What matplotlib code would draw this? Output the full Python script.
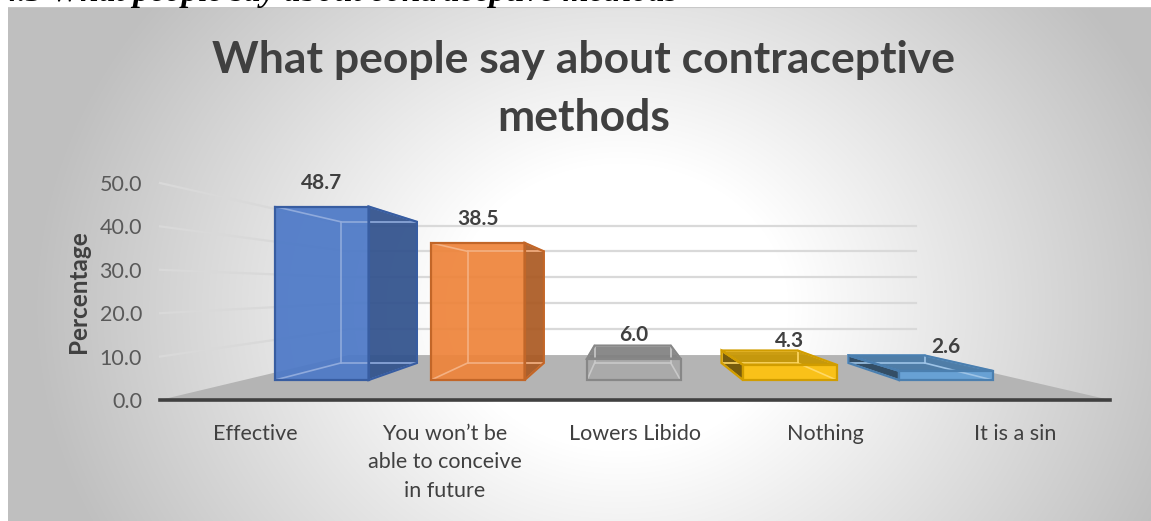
import numpy as np
import matplotlib.pyplot as plt
from matplotlib.patches import Polygon
from matplotlib.colors import to_rgb

categories = ['Effective', 'You won’t be\nable to conceive\nin future',
              'Lowers Libido', 'Nothing', 'It is a sin']
percentages = [48.7, 38.5, 6.0, 4.3, 2.6]
bar_colors = ['#4472c4', '#ed7d31', '#a5a5a5', '#ffc000', '#5b9bd5']
y_ticks = [0, 10, 20, 30, 40, 50]

# perspective set-up (data units): vanishing point + depth scale factors
VX, VY = 1.963, 25.7
WALL = 0.597          # back wall
BAR_FRONT = 0.821
BAR_BACK = 0.668
HALF = 0.3            # half bar width

TEXT = '#404040'
plt.rcParams['font.family'] = ['Lato', 'DejaVu Sans']


def proj(x, y, s):
    return VX + s * (x - VX), VY + s * (y - VY)


def draw_box(ax, xc, h, color):
    base = np.array(to_rgb(color))
    x0, x1 = xc - HALF, xc + HALF

    def pts(corners):
        return [proj(x, y, s) for x, y, s in corners]

    front = pts([(x0, 0, BAR_FRONT), (x1, 0, BAR_FRONT), (x1, h, BAR_FRONT), (x0, h, BAR_FRONT)])
    back = pts([(x0, 0, BAR_BACK), (x1, 0, BAR_BACK), (x1, h, BAR_BACK), (x0, h, BAR_BACK)])

    faces = []
    if h < VY:
        faces.append((pts([(x0, h, BAR_FRONT), (x1, h, BAR_FRONT), (x1, h, BAR_BACK), (x0, h, BAR_BACK)]),
                      base * 0.78))
    if x1 < VX:
        faces.append((pts([(x1, 0, BAR_FRONT), (x1, h, BAR_FRONT), (x1, h, BAR_BACK), (x1, 0, BAR_BACK)]),
                      base * 0.72))
    if x0 > VX:
        faces.append((pts([(x0, 0, BAR_FRONT), (x0, h, BAR_FRONT), (x0, h, BAR_BACK), (x0, 0, BAR_BACK)]),
                      base * 0.45))
    faces.append((front, base * 0.95 + 0.05))

    for p, c in faces:
        ax.add_patch(Polygon(p, closed=True, facecolor=np.clip(c, 0, 1), edgecolor='none',
                             alpha=0.93, zorder=3, clip_on=False))

    # see-through edges of the box
    faint = base * 0.6 + 0.4
    for i in range(4):
        j = (i + 1) % 4
        ax.plot([back[i][0], back[j][0]], [back[i][1], back[j][1]], color=faint, lw=1.2,
                zorder=4, clip_on=False)
        ax.plot([front[i][0], back[i][0]], [front[i][1], back[i][1]], color=faint, lw=1.2,
                zorder=4, clip_on=False)

    edge = base * 0.82
    for p, c in faces:
        ax.add_patch(Polygon(p, closed=True, fill=False, edgecolor=edge, lw=1.6,
                             zorder=5, clip_on=False))


fig = plt.figure(figsize=(11.51, 5.21), dpi=100)

# chart area background, radial grey gradient
bg = fig.add_axes([8 / 1151, 0, 1 - 8 / 1151, 514 / 521], zorder=-1)
gy, gx = np.mgrid[0:514, 0:1143]
r = np.sqrt(((gx - 612) / 560.0) ** 2 + ((gy - 300) / 480.0) ** 2)
shade = 1 - 0.25 * np.clip((r - 0.3) / 0.75, 0, 1)
bg.imshow(np.dstack([shade] * 3), aspect='auto', extent=(0, 1, 0, 1), interpolation='bilinear')
bg.axhline(1, color='#c8c8c8', lw=1.5)
bg.axis('off')

# caption line above the chart (runs off the top edge)
cap = fig.text(2 / 1151, 1 - 1 / 521, '4.3 What people say about contraceptive methods',
               family='Liberation Serif', fontweight='bold', fontstyle='italic',
               fontsize=20, va='baseline', ha='left', color='black')
fig.canvas.draw()
cap.set_fontsize(20 * 675 / cap.get_window_extent().width)

ax = fig.add_axes([160 / 1151, 121 / 521, 950 / 1151, 217 / 521])
ax.set_facecolor('none')
ax.set_xlim(-0.5, 4.5)
ax.set_ylim(0, 50)

xs = np.arange(len(categories))

# walls: grid lines on the back wall and the left side wall
for v in y_ticks[1:]:
    bx0, by = proj(-0.5, v, WALL)
    bx1, _ = proj(4.5, v, WALL)
    ax.plot([bx0, bx1], [by, by], color='#d9d9d9', lw=1.6, zorder=1, clip_on=False)
    ax.plot([-0.5, bx0], [v, by], color='#d9d9d9', lw=1.6, zorder=1, clip_on=False)

# floor
floor = [proj(-0.5, 0, 1), proj(4.5, 0, 1), proj(4.5, 0, WALL), proj(-0.5, 0, WALL)]
ax.add_patch(Polygon(floor, closed=True, facecolor='#b4b4b4', edgecolor='none', zorder=2,
                     clip_on=False))

for x, v, c in zip(xs, percentages, bar_colors):
    draw_box(ax, x, v, c)
    ax.annotate(f'{v:.1f}', xy=proj(x, v, BAR_FRONT), xytext=(0, 17), textcoords='offset points',
                ha='center', va='center', fontsize=15, fontweight='bold', color=TEXT,
                annotation_clip=False)

for side in ['top', 'right', 'left']:
    ax.spines[side].set_visible(False)
ax.spines['bottom'].set_color('#404040')
ax.spines['bottom'].set_linewidth(2.6)
ax.spines['bottom'].set_zorder(6)

ax.set_yticks(y_ticks)
ax.set_yticklabels([f'{t:.1f}' for t in y_ticks], fontsize=15.5, color='#595959')
ax.set_xticks(xs)
ax.set_xticklabels(categories, fontsize=15.5, color=TEXT, va='top')
for t in ax.get_xticklabels():
    t.set_linespacing(1.55)
ax.tick_params(axis='y', length=0, pad=13)
ax.tick_params(axis='x', length=0, pad=17)
ax.set_ylabel('Percentage', fontsize=17.5, fontweight='bold', color=TEXT, labelpad=7)

fig.text(584 / 1151, 1 - 73 / 521, 'What people say about contraceptive',
         ha='center', va='baseline', fontsize=32, fontweight='bold', color=TEXT)
fig.text(584 / 1151, 1 - 131 / 521, 'methods',
         ha='center', va='baseline', fontsize=32, fontweight='bold', color=TEXT)

fig.savefig('out.png', dpi=100)
